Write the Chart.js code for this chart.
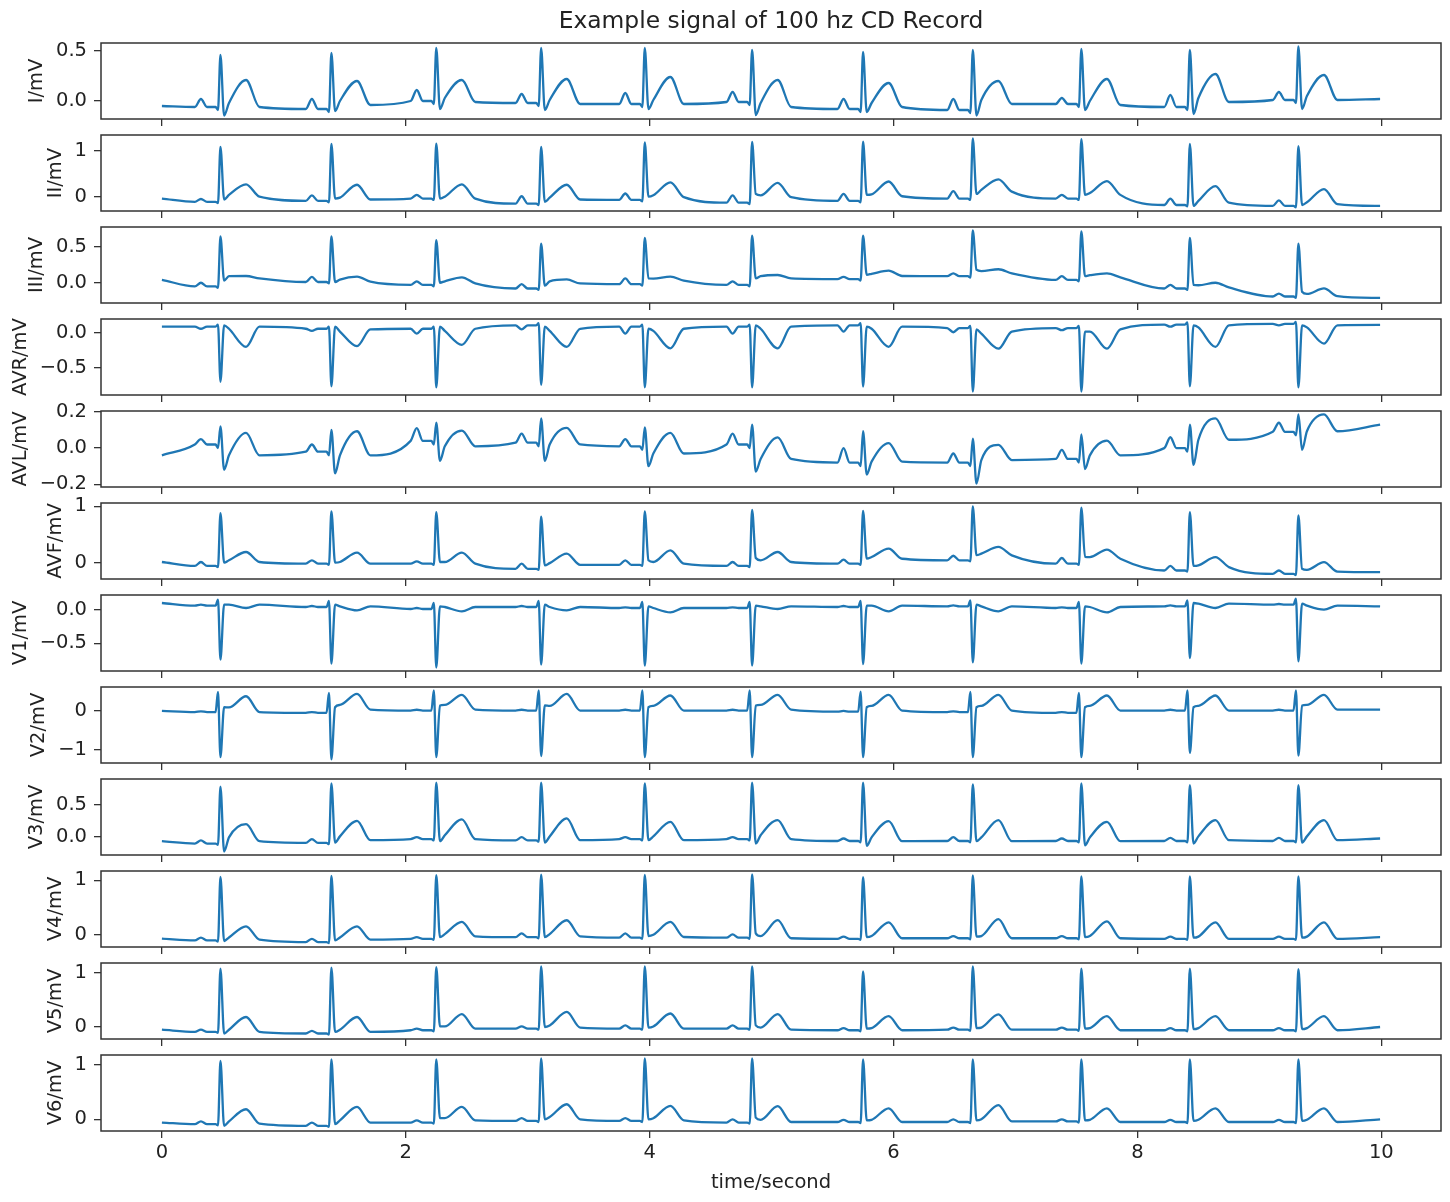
<!DOCTYPE html>
<html>
<head>
<meta charset="utf-8">
<title>ECG 12 leads</title>
<script src="https://cdn.jsdelivr.net/npm/chart.js@4/dist/chart.umd.min.js"></script>
<style>
  html, body { margin: 0; background: #fff; }
  #figure { position: relative; width: 1450px; height: 1202px; overflow: hidden; background: #fff; }
  #figure canvas { position: absolute; left: 0; }
</style>
</head>
<body>
<div id="figure"></div>
<script>
const figTitle = 'Example signal of 100 hz CD Record';
const xTitle = 'time/second';
const leadNames = ['I', 'II', 'III', 'AVR', 'AVL', 'AVF', 'V1', 'V2', 'V3', 'V4', 'V5', 'V6'];
const xTicks = [0, 2, 4, 6, 8, 10];

// R-peak times (s), shared by all leads
const beatTimes = [0.48, 1.39, 2.25, 3.11, 3.96, 4.84, 5.75, 6.65, 7.54, 8.43, 9.32];

// axis ranges and ticks per lead (mV)
const yLimits = [
  [-0.18, 0.58], [-0.31, 1.34], [-0.28, 0.77], [-0.89, 0.20], [-0.215, 0.205], [-0.28, 1.06],
  [-0.915, 0.225], [-1.35, 0.62], [-0.29, 0.906], [-0.22, 1.17], [-0.222, 1.185], [-0.215, 1.179]
];
const yTicks = [
  [0, 0.5], [0, 1], [0, 0.5], [-0.5, 0], [-0.2, 0, 0.2], [0, 1],
  [-0.5, 0], [-1, 0], [0, 0.5], [0, 1], [0, 1], [0, 1]
];

// levels at start / end of the record
const startLevel = [-0.05, -0.04, 0.04, 0.09, -0.04, 0.02, 0.105, 0.0, -0.073, -0.066, -0.05, -0.06];
const endLevel = [0.02, -0.20, -0.21, 0.115, 0.13, -0.16, 0.055, 0.035, -0.03, -0.04, 0.0, 0.0];
// deflection just before the main QRS spike, and ST level above the after-T baseline
const qWave = [-0.03, -0.03, -0.02, 0.03, -0.02, -0.02, 0.09, 0.52, -0.02, -0.02, -0.02, -0.02];
const stLift = [0.04, 0.04, 0.03, -0.03, 0.0, 0.03, 0.0, 0.12, 0.06, 0.04, 0.04, 0.04];

// per beat values (one row per lead, one column per beat)
const baseLevel = [
  [-0.06, -0.08, 0.00, -0.02, -0.03, -0.01, -0.08, -0.09, -0.03, -0.06, 0.01],
  [-0.11, -0.09, -0.04, -0.15, -0.07, -0.13, -0.09, -0.04, -0.04, -0.18, -0.20],
  [-0.05, 0.01, -0.03, -0.08, -0.02, -0.03, 0.05, 0.09, 0.04, -0.08, -0.19],
  [0.09, 0.06, 0.06, 0.11, 0.09, 0.09, 0.11, 0.07, 0.07, 0.12, 0.13],
  [0.02, -0.02, 0.04, 0.03, 0.01, 0.02, -0.08, -0.08, -0.06, 0.00, 0.09],
  [-0.05, -0.01, -0.01, -0.10, -0.03, -0.05, -0.01, 0.05, -0.01, -0.13, -0.19],
  [0.065, 0.045, 0.015, 0.045, 0.03, 0.03, 0.045, 0.055, 0.03, 0.055, 0.08],
  [-0.03, -0.05, 0.01, 0.01, 0.01, 0.01, -0.02, -0.03, -0.05, 0.01, 0.01],
  [-0.11, -0.10, -0.04, -0.06, -0.04, -0.04, -0.07, -0.07, -0.07, -0.07, -0.07],
  [-0.10, -0.13, -0.07, -0.04, -0.05, -0.05, -0.07, -0.06, -0.06, -0.07, -0.07],
  [-0.09, -0.12, -0.06, -0.03, -0.03, -0.03, -0.06, -0.05, -0.05, -0.06, -0.06],
  [-0.09, -0.12, -0.06, -0.03, -0.03, -0.06, -0.05, -0.05, -0.04, -0.05, -0.05]
];
const pWave = [
  [0.02, 0.02, 0.11, 0.07, 0.08, 0.09, 0.02, 0.02, 0.03, 0.06, 0.09],
  [-0.05, 0.03, 0.04, 0.01, 0.07, 0.03, 0.06, 0.12, 0.04, -0.04, -0.08],
  [0.00, 0.08, 0.02, -0.02, 0.06, 0.02, 0.08, 0.13, 0.09, -0.03, -0.15],
  [0.06, 0.03, -0.01, 0.05, -0.01, -0.01, 0.02, 0.01, 0.04, 0.09, 0.11],
  [0.05, 0.02, 0.11, 0.08, 0.05, 0.08, 0.00, -0.03, -0.01, 0.06, 0.14],
  [0.02, 0.05, 0.03, -0.01, 0.05, 0.02, 0.06, 0.13, 0.09, -0.05, -0.13],
  [0.08, 0.06, 0.03, 0.06, 0.04, 0.04, 0.06, 0.07, 0.04, 0.07, 0.09],
  [-0.01, -0.03, 0.03, 0.03, 0.03, 0.03, 0.00, -0.01, -0.03, 0.03, 0.03],
  [-0.06, -0.04, -0.01, -0.01, -0.01, -0.01, -0.03, -0.01, -0.03, -0.02, -0.02],
  [-0.05, -0.07, -0.04, 0.03, 0.03, 0.01, -0.03, -0.02, -0.02, -0.03, -0.03],
  [-0.05, -0.07, -0.03, 0.01, 0.03, 0.03, -0.02, -0.01, -0.01, -0.02, -0.02],
  [-0.04, -0.06, -0.02, 0.02, 0.02, 0.00, -0.01, 0.00, 0.00, -0.01, -0.01]
];
const rWave = [
  [0.46, 0.48, 0.53, 0.53, 0.53, 0.51, 0.49, 0.51, 0.52, 0.51, 0.545],
  [1.08, 1.145, 1.15, 1.08, 1.18, 1.19, 1.195, 1.266, 1.25, 1.145, 1.10],
  [0.64, 0.64, 0.59, 0.54, 0.62, 0.65, 0.65, 0.722, 0.71, 0.62, 0.54],
  [-0.70, -0.765, -0.78, -0.745, -0.78, -0.78, -0.77, -0.84, -0.84, -0.765, -0.78],
  [0.12, 0.10, 0.14, 0.164, 0.115, 0.13, 0.093, 0.052, 0.075, 0.13, 0.186],
  [0.88, 0.91, 0.90, 0.82, 0.91, 0.94, 0.92, 1.00, 0.98, 0.90, 0.84],
  [-0.745, -0.805, -0.863, -0.82, -0.835, -0.835, -0.81, -0.785, -0.805, -0.72, -0.77],
  [-1.20, -1.257, -1.20, -1.17, -1.20, -1.20, -1.20, -1.20, -1.20, -1.09, -1.16],
  [0.785, 0.837, 0.85, 0.85, 0.837, 0.85, 0.85, 0.82, 0.837, 0.81, 0.81],
  [1.06, 1.08, 1.095, 1.105, 1.10, 1.107, 1.056, 1.09, 1.07, 1.07, 1.07],
  [1.08, 1.10, 1.11, 1.12, 1.12, 1.12, 1.03, 1.12, 1.08, 1.08, 1.07],
  [1.07, 1.10, 1.10, 1.115, 1.115, 1.115, 1.10, 1.10, 1.10, 1.10, 1.10]
];
const sWave = [
  [-0.145, -0.10, -0.08, -0.09, -0.08, -0.14, -0.11, -0.145, -0.09, -0.13, -0.08],
  [-0.06, -0.04, -0.04, -0.11, 0.00, 0.06, 0.04, 0.06, 0.04, -0.20, -0.18],
  [0.03, 0.01, 0.00, -0.04, 0.06, 0.06, 0.11, 0.18, 0.09, -0.03, -0.125],
  [0.11, 0.09, 0.09, 0.09, 0.06, 0.11, 0.09, 0.05, 0.02, 0.11, 0.11],
  [-0.12, -0.14, -0.07, -0.07, -0.10, -0.13, -0.146, -0.196, -0.116, -0.093, -0.01],
  [0.01, 0.01, 0.02, -0.04, 0.05, 0.09, 0.08, 0.14, 0.11, -0.05, -0.10],
  [0.08, 0.08, 0.055, 0.08, 0.055, 0.065, 0.065, 0.08, 0.055, 0.105, 0.095],
  [0.095, 0.095, 0.14, 0.14, 0.095, 0.14, 0.095, 0.095, 0.095, 0.095, 0.14],
  [-0.235, -0.095, -0.073, -0.095, -0.057, -0.11, -0.147, -0.073, -0.137, -0.11, -0.095],
  [-0.11, -0.10, -0.04, -0.04, -0.02, 0.03, -0.04, -0.03, -0.04, -0.05, -0.05],
  [-0.12, -0.09, 0.01, 0.00, -0.01, 0.03, -0.03, -0.02, -0.03, -0.04, -0.04],
  [-0.12, -0.09, 0.02, 0.00, 0.00, 0.03, -0.02, -0.02, -0.02, -0.03, -0.03]
];
const tWave = [
  [0.21, 0.20, 0.21, 0.22, 0.24, 0.21, 0.18, 0.20, 0.22, 0.27, 0.26],
  [0.27, 0.26, 0.27, 0.26, 0.31, 0.30, 0.33, 0.377, 0.34, 0.23, 0.167],
  [0.093, 0.084, 0.074, 0.046, 0.084, 0.107, 0.167, 0.186, 0.13, 0.0, -0.079],
  [-0.20, -0.19, -0.17, -0.20, -0.22, -0.22, -0.20, -0.226, -0.226, -0.20, -0.153],
  [0.084, 0.093, 0.097, 0.112, 0.084, 0.059, 0.028, 0.018, 0.041, 0.164, 0.186],
  [0.196, 0.185, 0.185, 0.167, 0.226, 0.196, 0.256, 0.286, 0.238, 0.107, 0.018],
  [0.03, -0.005, -0.02, -0.005, -0.035, 0.015, -0.02, -0.02, -0.035, 0.03, 0.005],
  [0.38, 0.44, 0.415, 0.44, 0.40, 0.415, 0.415, 0.415, 0.40, 0.40, 0.415],
  [0.195, 0.248, 0.27, 0.286, 0.232, 0.26, 0.243, 0.26, 0.232, 0.26, 0.26],
  [0.159, 0.159, 0.238, 0.269, 0.238, 0.27, 0.23, 0.29, 0.25, 0.23, 0.23],
  [0.185, 0.185, 0.24, 0.28, 0.25, 0.24, 0.20, 0.235, 0.20, 0.20, 0.20],
  [0.184, 0.227, 0.227, 0.276, 0.245, 0.24, 0.20, 0.26, 0.20, 0.20, 0.20]
];
const afterT = [
  [-0.06, -0.04, -0.01, -0.03, -0.03, -0.06, -0.06, -0.03, -0.04, -0.01, 0.01],
  [0.00, -0.06, -0.04, -0.06, -0.01, -0.01, 0.01, 0.11, 0.04, -0.13, -0.16],
  [0.06, 0.014, -0.01, -0.01, 0.028, 0.06, 0.093, 0.13, 0.074, -0.065, -0.185],
  [0.09, 0.05, 0.06, 0.06, 0.06, 0.09, 0.09, 0.02, 0.05, 0.11, 0.11],
  [-0.04, -0.04, 0.01, 0.02, -0.03, -0.06, -0.075, -0.066, -0.04, 0.046, 0.093],
  [0.02, -0.01, -0.01, -0.03, -0.01, 0.02, 0.077, 0.137, 0.077, -0.07, -0.15],
  [0.08, 0.055, 0.045, 0.045, 0.03, 0.055, 0.065, 0.055, 0.045, 0.095, 0.065],
  [-0.03, 0.035, 0.035, 0.01, 0.01, 0.035, 0.01, 0.01, 0.01, 0.01, 0.035],
  [-0.073, -0.057, -0.04, -0.057, -0.057, -0.04, -0.073, -0.073, -0.073, -0.057, -0.057],
  [-0.085, -0.085, -0.024, -0.024, -0.037, -0.06, -0.06, -0.06, -0.06, -0.07, -0.07],
  [-0.09, -0.09, -0.03, -0.01, -0.03, -0.05, -0.06, -0.05, -0.06, -0.06, -0.06],
  [-0.08, -0.06, -0.02, 0.00, -0.02, -0.05, -0.05, -0.04, -0.05, -0.05, -0.05]
];

const panelTop = 43;
const panelHeight = 76;
const panelStep = 92;
const edge = 14;
const lineColor = '#1f77b4';
const inkColor = '#222';
const tickFont = { family: 'DejaVu Sans', size: 19.5 };

const fmtTick = (v, dec) => v.toFixed(dec).replace('-', '\u2212');

// vertices of one lead, beat by beat
const leadPoints = (i) => {
  const pts = [{ x: 0, y: startLevel[i] }];
  beatTimes.forEach((t, k) => {
    const b = baseLevel[i][k];
    pts.push(
      { x: t - 0.21, y: b },
      { x: t - 0.16, y: pWave[i][k] },
      { x: t - 0.11, y: b },
      { x: t - 0.04, y: b },
      { x: t - 0.02, y: b + qWave[i] },
      { x: t, y: rWave[i][k] },
      { x: t + 0.03, y: sWave[i][k] },
      { x: t + 0.07, y: afterT[i][k] + stLift[i] },
      { x: t + 0.21, y: tWave[i][k] },
      { x: t + 0.32, y: afterT[i][k] }
    );
  });
  pts.push({ x: 9.99, y: endLevel[i] });
  return pts;
};

// frame box, rotated y label and figure title
const panelFrame = {
  id: 'panelFrame',
  afterDraw(chart, args, opts) {
    const { ctx, chartArea: a } = chart;
    ctx.save();
    ctx.strokeStyle = '#333';
    ctx.lineWidth = 1.5;
    ctx.strokeRect(a.left, a.top, a.right - a.left, a.bottom - a.top);
    ctx.fillStyle = inkColor;
    ctx.font = '19.5px "DejaVu Sans"';
    const widest = Math.max(...opts.tickLabels.map(s => ctx.measureText(s).width));
    ctx.save();
    ctx.translate(a.left - 7 - 7 - widest - 8 - 11, (a.top + a.bottom) / 2);
    ctx.rotate(-Math.PI / 2);
    ctx.textAlign = 'center';
    ctx.textBaseline = 'middle';
    ctx.fillText(opts.label, 0, 0);
    ctx.restore();
    if (opts.title) {
      ctx.font = '23.4px "DejaVu Sans"';
      ctx.textAlign = 'center';
      ctx.textBaseline = 'middle';
      ctx.fillText(opts.title, (a.left + a.right) / 2, 22);
    }
    ctx.restore();
  }
};

const figure = document.getElementById('figure');

leadNames.forEach((name, i) => {
  const first = i === 0;
  const last = i === leadNames.length - 1;
  const padTop = first ? panelTop : edge;
  const xHeight = last ? 71 : edge;
  const h = padTop + panelHeight + xHeight;
  const dec = yTicks[i].every(Number.isInteger) ? 0 : 1;

  const canvas = document.createElement('canvas');
  canvas.width = 1450;
  canvas.height = h;
  canvas.style.width = '1450px';
  canvas.style.height = h + 'px';
  canvas.style.top = (first ? 0 : panelTop + panelStep * i - edge) + 'px';
  figure.appendChild(canvas);

  new Chart(canvas, {
    type: 'line',
    data: {
      datasets: [{
        label: name + '/mV',
        data: leadPoints(i),
        borderColor: lineColor,
        borderWidth: 2.3,
        pointRadius: 0,
        fill: false,
        cubicInterpolationMode: 'monotone'
      }]
    },
    options: {
      responsive: false,
      animation: false,
      devicePixelRatio: 1,
      events: [],
      layout: { padding: { left: 0, right: 9, top: padTop, bottom: 0 } },
      plugins: {
        legend: { display: false },
        tooltip: { enabled: false },
        panelFrame: {
          label: name + '/mV',
          tickLabels: yTicks[i].map(v => fmtTick(v, dec)),
          title: first ? figTitle : null
        }
      },
      scales: {
        x: {
          type: 'linear',
          min: -0.4995,
          max: 10.4895,
          afterBuildTicks: s => { s.ticks = xTicks.map(v => ({ value: v })); },
          afterFit: s => {
            s.height = xHeight;
            s.paddingLeft = 0;
            s.paddingRight = 0;
          },
          border: { display: false },
          grid: { drawOnChartArea: false, drawTicks: true, tickLength: 7, color: '#333', lineWidth: 1.3 },
          ticks: {
            display: last, autoSkip: false, maxRotation: 0, padding: 3,
            font: tickFont, color: inkColor,
            callback: v => String(v)
          },
          title: {
            display: last, text: xTitle, font: tickFont, color: inkColor,
            padding: { top: 0, bottom: 7 }
          }
        },
        y: {
          type: 'linear',
          min: yLimits[i][0],
          max: yLimits[i][1],
          afterBuildTicks: s => { s.ticks = yTicks[i].map(v => ({ value: v })); },
          afterFit: s => {
            s.width = 101;
            s.paddingTop = 0;
            s.paddingBottom = 0;
          },
          border: { display: false },
          grid: { drawOnChartArea: false, drawTicks: true, tickLength: 7, color: '#333', lineWidth: 1.3 },
          ticks: {
            padding: 7, font: tickFont, color: inkColor,
            callback: v => fmtTick(v, dec)
          }
        }
      }
    },
    plugins: [panelFrame]
  });
});
</script>
</body>
</html>
